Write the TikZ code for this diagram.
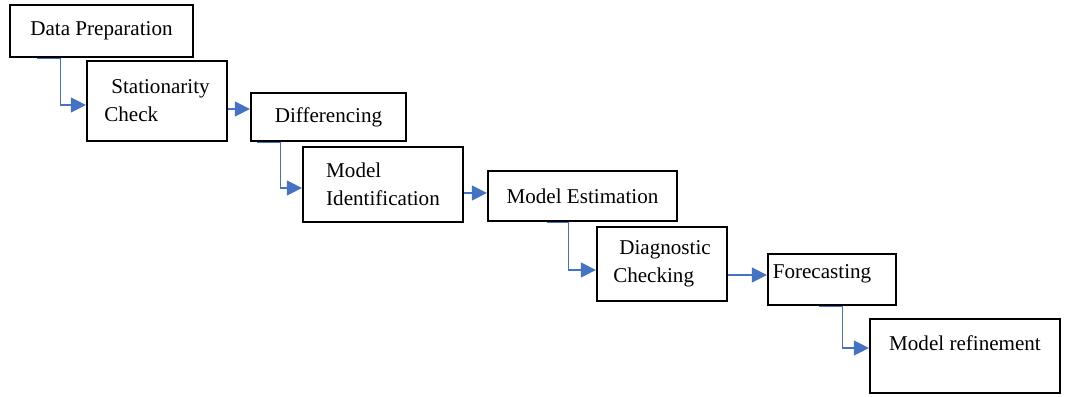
\documentclass[tikz,border=0pt]{standalone}
\usepackage{fontspec}
\setmainfont{Liberation Serif}
\usetikzlibrary{arrows.meta}

\begin{document}
\begin{tikzpicture}[x=0.02cm, y=-0.02cm,
    box/.style={draw, line width=1.3pt, inner sep=1pt, font=\fontsize{12}{16}\selectfont},
    flow/.style={draw={rgb,255:red,68;green,114;blue,196}, line width=0.7pt,
        -{Triangle[length=3mm, width=3mm, fill={rgb,255:red,68;green,114;blue,196}]}}]
    \useasboundingbox (0,0) rectangle (1068,396);
    \node[box, minimum width=36.6mm, minimum height=10.4mm] (prep) at (101.5, 31) {Data Preparation};
    \node[box, minimum width=28mm, minimum height=16mm, align=left] (stat) at (157, 101) {\hspace*{4pt}Stationarity\\Check};
    \node[box, minimum width=31mm, minimum height=9.6mm] (diff) at (328.5, 117) {Differencing};
    \node[box, minimum width=32mm, minimum height=15mm, align=left] (ident) at (383, 184.5) {Model\\Identification};
    \node[box, minimum width=37.8mm, minimum height=10mm] (estim) at (582.5, 196) {Model Estimation};
    \node[box, minimum width=26mm, minimum height=14.8mm, align=left] (diag) at (662, 264) {\hspace*{3.5pt}Diagnostic\\Checking};
    \node[box, minimum width=25.6mm, minimum height=10.2mm, text depth=3.3mm] (fore) at (832, 279.5) {Forecasting\hspace*{4mm}};
    \node[box, minimum width=38mm, minimum height=14.8mm, text depth=5.3mm] (refine) at (965, 356) {Model refinement};
    % elbow links from the bottom edges
    \draw[flow] (prep.south west) ++(28,0) -- ++(24,0) |- ([yshift=-0.8mm]stat.west);
    \draw[flow] (diff.south west) ++(7,0) -- ++(24,0) |- ([yshift=-0.7mm]ident.west);
    \draw[flow] (estim.south west) ++(60,0) -- ++(22,0) |- ([yshift=-1.2mm]diag.west);
    \draw[flow] (fore.south west) ++(52,0) -- ++(24,0) |- ([yshift=1.6mm]refine.west);
    % straight links
    \draw[flow] ([yshift=-1.6mm]stat.east) coordinate (s1) -- (s1 -| diff.west);
    \draw[flow] ([yshift=-1.7mm]ident.east) coordinate (s2) -- (s2 -| estim.west);
    \draw[flow] ([yshift=-2.2mm]diag.east) coordinate (s3) -- (s3 -| fore.west);
\end{tikzpicture}
\end{document}
